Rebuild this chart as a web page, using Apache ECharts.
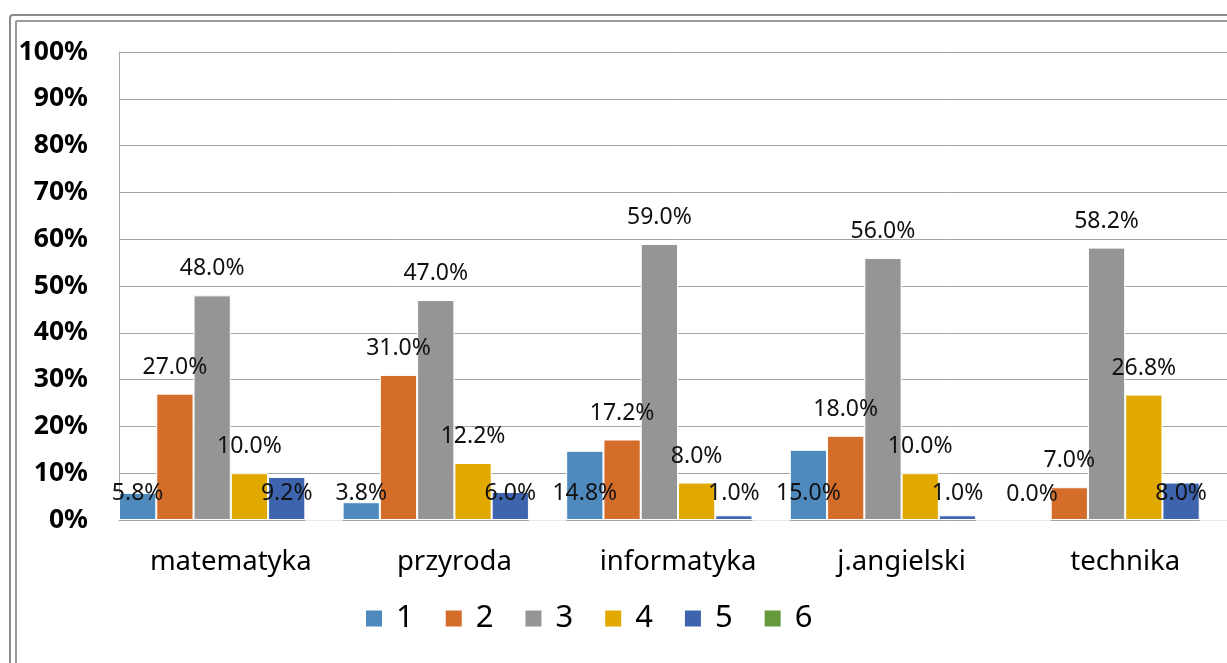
<!DOCTYPE html>
<html>
<head>
<meta charset="utf-8">
<script src="https://cdn.jsdelivr.net/npm/echarts@6/dist/echarts.min.js"></script>
<style>
html,body{margin:0;padding:0;background:#fff;}
#chart{width:1227px;height:663px;}
</style>
</head>
<body>
<div id="chart"></div>
<script>
const categories = ['matematyka', 'przyroda', 'informatyka', 'j.angielski', 'technika'];
const seriesNames = ['1', '2', '3', '4', '5', '6'];
const s1 = [5.8, 3.8, 14.8, 15.0, 0.0];
const s2 = [27.0, 31.0, 17.2, 18.0, 7.0];
const s3 = [48.0, 47.0, 59.0, 56.0, 58.2];
const s4 = [10.0, 12.2, 8.0, 10.0, 26.8];
const s5 = [9.2, 6.0, 1.0, 1.0, 8.0];
const s6 = [0, 0, 0, 0, 0];
const yTicks = [0, 100, 10]; // min, max, interval

const colors = ['#4f8abe', '#d46c2a', '#959595', '#e1a900', '#3e64ae', '#64993c'];
const values = [s1, s2, s3, s4, s5, s6];
const labelPos = ['insideBottom', 'top', 'top', 'top', 'insideBottom', null];
const FONT = 'Noto Sans';

const chart = echarts.init(document.getElementById('chart'), null, {renderer: 'canvas'});
const series = values.map((v, i) => ({
  name: seriesNames[i],
  type: 'bar',
  data: v,
  barGap: '0%',
  barCategoryGap: '0%',
  itemStyle: {color: colors[i], borderColor: '#ffffff', borderWidth: 1},
  label: {
    show: labelPos[i] !== null,
    position: labelPos[i] || 'top',
    distance: 15,
    color: '#111',
    fontFamily: FONT,
    fontSize: 23,
    formatter: p => p.value.toFixed(1) + '%'
  }
}));

chart.setOption({
  animation: false,
  backgroundColor: '#ffffff',
  graphic: [
    {type: 'rect', shape: {x: 10, y: 15, width: 1300, height: 800, r: 3}, style: {fill: 'none', stroke: '#8a8a8a', lineWidth: 2}, z: -1},
    {type: 'rect', shape: {x: 16, y: 21, width: 1300, height: 800, r: 1}, style: {fill: 'none', stroke: '#9a9a9a', lineWidth: 2}, z: -1}
  ],
  grid: {left: 119, top: 52, width: 1118, bottom: 143, containLabel: false, outerBoundsMode: 'none'},
  legend: {
    left: 359, top: 598,
    itemWidth: 18, itemHeight: 18, itemGap: 30,
    icon: 'rect',
    textStyle: {fontFamily: FONT, fontSize: 31, color: '#000', padding: [0, 0, 0, 8]},
    data: seriesNames
  },
  xAxis: {
    type: 'category',
    data: categories,
    axisLine: {lineStyle: {color: '#a5a5a5', width: 1}},
    axisTick: {show: false},
    axisLabel: {fontFamily: FONT, fontSize: 27.5, color: '#000', margin: 28}
  },
  yAxis: {
    type: 'value',
    min: yTicks[0], max: yTicks[1], interval: yTicks[2],
    axisLine: {show: true, lineStyle: {color: '#a5a5a5', width: 1}},
    axisTick: {show: false},
    splitLine: {lineStyle: {color: '#a5a5a5', width: 1}},
    axisLabel: {fontFamily: FONT, fontSize: 26.5, fontWeight: 'bold', color: '#000', margin: 31, formatter: '{value}%'}
  },
  series: series
});
</script>
</body>
</html>
